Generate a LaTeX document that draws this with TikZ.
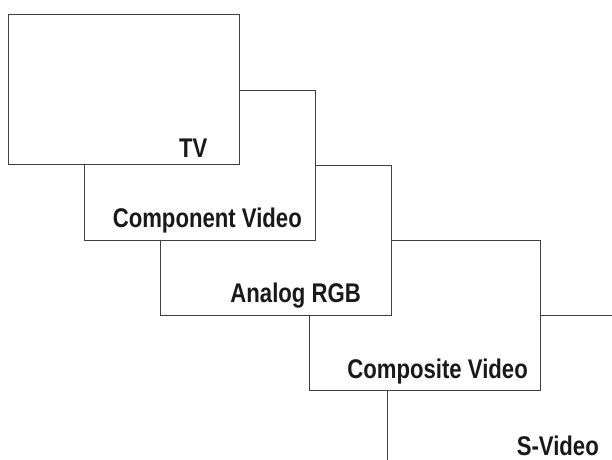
\documentclass[tikz,border=0pt]{standalone}
\usepackage{fontspec}
\newfontfamily\panelfont[FakeStretch=0.82]{Liberation Sans}
\usepackage{tikz}

\tikzset{
  panel/.style={draw=black!75,line width=0.8pt,fill=white,minimum width=231pt,
    minimum height=150pt,inner sep=0pt,outer sep=0pt},
  tag/.style={anchor=base east,inner sep=0pt,font=\panelfont\bfseries\fontsize{27}{27}\selectfont,
    text=black!90}
}

\begin{document}
\begin{tikzpicture}[x=1pt,y=-1pt]
\useasboundingbox (0,0) rectangle (612,459);
\clip (0,0) rectangle (612,459);
% stacked panels, back to front
\node[panel] (svideo) at (502.5,390) {};
\node[panel] (composite) at (424.5,315) {};
\node[panel] (rgb) at (275.5,240) {};
\node[panel] (component) at (199.5,165) {};
\node[panel] (tv) at (124,89) {};
% labels
\node[tag] (tvlabel) at ([shift={(-32,-7)}]tv.south east) {TV};
\node[tag] (componentlabel) at ([shift={(-13,-13)}]component.south east) {Component Video};
\node[tag] (rgblabel) at ([shift={(-30,-13)}]rgb.south east) {Analog RGB};
\node[tag] (compositelabel) at ([shift={(-12,-12)}]composite.south east) {Composite Video};
\node[tag] (svideolabel) at ([shift={(-19,-10)}]svideo.south east) {S-Video};
\end{tikzpicture}
\end{document}
